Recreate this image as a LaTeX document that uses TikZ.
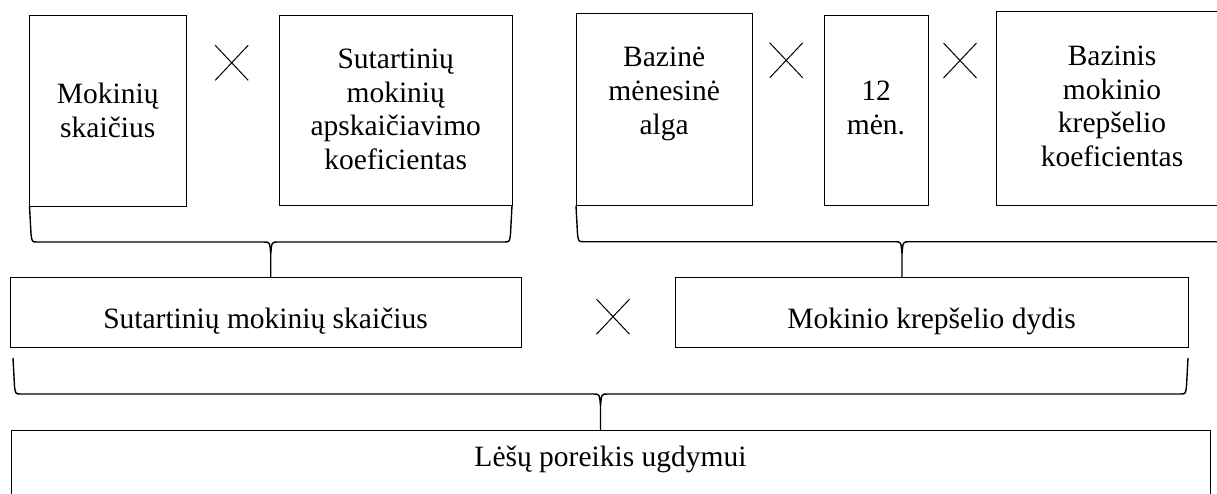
\documentclass[tikz,border=0pt]{standalone}
\usepackage{fontspec}
\setmainfont{Liberation Serif}
\usetikzlibrary{shapes.misc,calc}

% curly brace joining two end points, with its tip dropping to a third point
\newcommand{\joinbrace}[3]{%
  \draw[bracestroke]
    let \p1=#1, \p2=#2, \p3=#3,
        \n1={(\x1+\x2)/2}, \n2={\y1-36pt} in
    (\p1) -- (\x1+1.5pt,\n2+8pt)
    .. controls (\x1+2.5pt,\n2) .. (\x1+8pt,\n2)
    -- (\n1-7pt,\n2)
    .. controls (\n1-1pt,\n2) .. (\n1,\n2-12pt)
    -- (\n1,\y3)
    (\n1,\n2-12pt)
    .. controls (\n1+1pt,\n2) .. (\n1+7pt,\n2)
    -- (\x2-8pt,\n2)
    .. controls (\x2-2.5pt,\n2) .. (\x2-1.5pt,\n2+8pt)
    -- (\p2);%
}

\begin{document}
\begin{tikzpicture}[x=1pt,y=1pt,
  box/.style={draw, line width=1pt, rectangle, inner sep=0pt, outer sep=0pt, anchor=north west},
  txt/.style={font=\fontsize{29.5}{33.8}\selectfont, align=center, inner sep=0pt, anchor=north},
  onelinetext/.style={font=\fontsize{29.5}{33.8}\selectfont, inner xsep=0pt, inner ysep=0pt},
  times/.style={cross out, draw, line width=1pt, minimum width=32pt, minimum height=34pt, inner sep=0pt},
  bracestroke/.style={line width=1.4pt, line join=round}]
\useasboundingbox (0,0) rectangle (1217,-493);
\fill[white] (0,0) rectangle (1217,-493);
\clip (0,0) rectangle (1217,-493);

% top row of factors
\node[box, minimum width=156.5pt, minimum height=191pt]   (b1) at (29.5,-15)   {};
\node[box, minimum width=232.5pt, minimum height=190.5pt] (b2) at (279.5,-15)  {};
\node[box, minimum width=176.3pt, minimum height=192.4pt] (b3) at (576,-13.3)  {};
\node[box, minimum width=104pt,   minimum height=190pt]   (b4) at (824,-15.7)  {};
\node[box, minimum width=232pt,   minimum height=194pt]   (b5) at (996,-11.7)  {};

\node[txt] (t1) at ([yshift=-66pt]b1.north)   {\rule{0pt}{22pt}Mokinių\\skaičius};
\node[txt] (t2) at ([yshift=-31pt]b2.north)   {\rule{0pt}{22pt}Sutartinių\\mokinių\\apskaičiavimo\\koeficientas};
\node[txt] (t3) at ([yshift=-31.2pt]b3.north) {\rule{0pt}{22pt}Bazinė\\mėnesinė\\alga};
\node[txt] (t4) at ([yshift=-62.3pt]b4.north) {\rule{0pt}{22pt}12\\mėn.};
\node[txt] (t5) at ([yshift=-31.3pt]b5.north) {\rule{0pt}{22pt}Bazinis\\mokinio\\krepšelio\\koeficientas};

% multiplication signs
\node[times] (x1) at (231.7,-62.8) {};
\node[times] (x2) at (786.2,-60.3) {};
\node[times] (x3) at (960,-60.5)   {};
\node[times] (x4) at (613,-316.7)  {};

% intermediate results
\node[box, onelinetext, minimum width=511pt, text height=50.7pt, text depth=19.7pt]
  (m1) at (10,-277.3) {Sutartinių mokinių skaičius};
\node[box, onelinetext, minimum width=513pt, text height=50.7pt, text depth=19.7pt]
  (m2) at (675,-277.3) {Mokinio krepšelio dydis};

% final result
\node[box, onelinetext, minimum width=1199pt, text height=36pt, text depth=54pt]
  (bot) at (11,-430) {Lėšų poreikis ugdymui};

% braces
\joinbrace{(b1.south west)}{(b2.south east)}{(m1.north)}
\joinbrace{(b3.south west)}{(b5.south east)}{(m2.north)}
\joinbrace{($(m1.south west)+(3,-10.3)$)}{($(m2.south east)+(0,-10.3)$)}{(bot.north)}
\end{tikzpicture}
\end{document}
